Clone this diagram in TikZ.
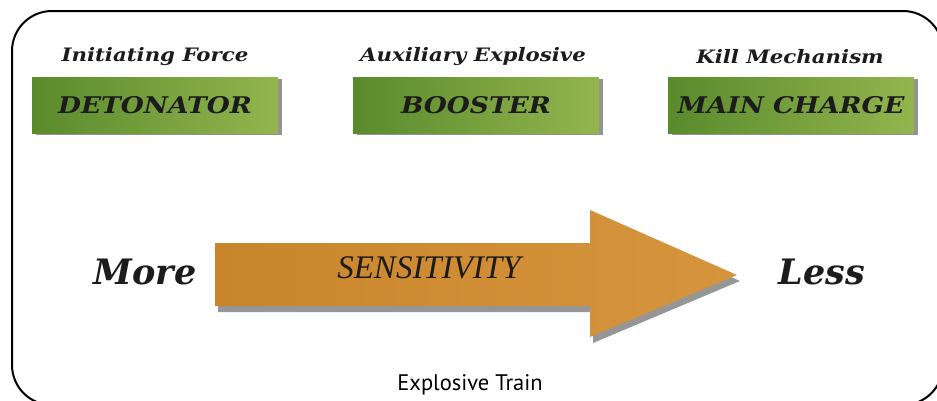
\documentclass[tikz,border=0pt]{standalone}
\usepackage{fontspec}
\setmainfont{Liberation Serif}
\newfontfamily\schoolbi{DejaVu Serif}[UprightFont=* Bold Italic, FakeStretch=1.15]
\newfontfamily\schoolbiplain{DejaVu Serif}[UprightFont=* Bold Italic]
\newfontfamily\capsans{PT Sans}
\usetikzlibrary{shadows}
\definecolor{greenA}{HTML}{5A8A2C}
\definecolor{greenB}{HTML}{93B54E}
\definecolor{orangeA}{HTML}{C9852C}
\definecolor{orangeB}{HTML}{D6953D}
\definecolor{inkdark}{HTML}{1C1C1C}
\tikzset{
  headlabel/.style={font=\schoolbi\fontsize{18.5}{22}\selectfont, text=inkdark, inner sep=0pt},
  greenbox/.style={minimum width=246pt, minimum height=56pt, inner sep=0pt,
    left color=greenA, right color=greenB,
    drop shadow={shadow xshift=4pt, shadow yshift=-2pt, opacity=0.6, fill=black!70},
    font=\schoolbi\fontsize{23}{26}\selectfont, text=inkdark},
  sidelabel/.style={font=\schoolbiplain\fontsize{35}{40}\selectfont, text=inkdark, inner sep=0pt},
}
\begin{document}
\begin{tikzpicture}[x=1pt,y=-1pt]
\useasboundingbox (0,0) rectangle (937,400);
\clip (0,0) rectangle (937,400);
\fill[white] (0,0) rectangle (937,400);
% frame
\draw[line width=2pt, rounded corners=40pt] (12,11) rectangle (943,405);
% top labels
\node[headlabel] (l1) at (155,57) {Initiating Force};
\node[headlabel] (l2) at (473,57) {Auxiliary Explosive};
\node[headlabel] (l3) at (790,57) {Kill Mechanism};
% boxes
\node[greenbox] (b1) at (155,105) {DETONATOR};
\node[greenbox] (b2) at (476,105) {BOOSTER};
\node[greenbox] (b3) at (791,105) {MAIN CHARGE};
% arrow
\path[left color=orangeA, right color=orangeB,
  drop shadow={shadow xshift=3pt, shadow yshift=-6pt, opacity=0.55, fill=black!75}]
  (215,243) -- (590,243) -- (590,210) -- (737,275) -- (590,337) -- (590,306) -- (215,306) -- cycle;
\node[font=\itshape\fontsize{33}{36}\selectfont, text=inkdark, inner sep=0pt] (sens) at (429,268) {SENSITIVITY};
\node[sidelabel] (more) at (145,272) {More};
\node[sidelabel] (less) at (822,272) {Less};
% caption
\node[font=\capsans\fontsize{22.5}{26}\selectfont, text=black, inner sep=0pt] (cap) at (470,385) {Explosive Train};
\end{tikzpicture}
\end{document}
